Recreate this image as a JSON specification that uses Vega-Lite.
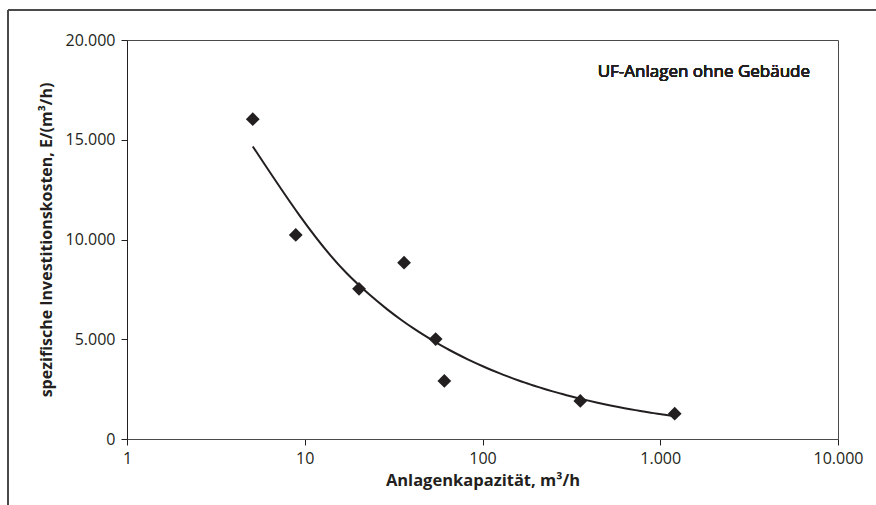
{
  "$schema": "https://vega.github.io/schema/vega-lite/v6.json",
  "width": 711,
  "height": 399,
  "autosize": {"type": "none"},
  "padding": {"left": 127, "top": 40, "right": 38, "bottom": 66},
  "background": "white",
  "config": {
    "font": "Open Sans",
    "view": {"stroke": "#4a4a4a", "strokeWidth": 1}
  },
  "data": {
    "values": [
      {"kap": 5.1, "kosten": 16030},
      {"kap": 8.9, "kosten": 10230},
      {"kap": 20.2, "kosten": 7530},
      {"kap": 36.2, "kosten": 8840},
      {"kap": 54.5, "kosten": 5010},
      {"kap": 61, "kosten": 2910},
      {"kap": 355, "kosten": 1910},
      {"kap": 1206, "kosten": 1270}
    ]
  },
  "layer": [
    {
      "mark": {"type": "rule", "color": "#4a4a4a", "strokeWidth": 1.2, "clip": false},
      "encoding": {
        "x": {"datum": 0.2141, "type": "quantitative", "scale": {"type": "log", "domain": [1, 10000]}},
        "y": {"datum": 21504, "type": "quantitative"},
        "y2": {"datum": -3600}
      }
    },
    {
      "mark": {"type": "rule", "color": "#4a4a4a", "strokeWidth": 1.2, "clip": false},
      "encoding": {
        "x": {"datum": 0.2141, "type": "quantitative"},
        "x2": {"datum": 20000},
        "y": {"datum": 21504, "type": "quantitative"}
      }
    },
    {
      "transform": [{"regression": "kosten", "on": "kap", "method": "pow"}],
      "mark": {"type": "line", "color": "#231f20", "strokeWidth": 2, "interpolate": "monotone"},
      "encoding": {
        "x": {"field": "kap", "type": "quantitative"},
        "y": {"field": "kosten", "type": "quantitative"}
      }
    },
    {
      "mark": {"type": "point", "shape": "diamond", "filled": true, "size": 190, "color": "#231f20", "opacity": 1},
      "encoding": {
        "x": {
          "field": "kap",
          "type": "quantitative",
          "scale": {"type": "log", "domain": [1, 10000]},
          "axis": {
            "title": "Anlagenkapazität, m³/h",
            "values": [1, 10, 100, 1000, 10000],
            "labelExpr": "replace(format(datum.value, ','), ',', '.')",
            "grid": false,
            "domainColor": "#4a4a4a",
            "tickColor": "#231f20",
            "tickSize": 6,
            "labelPadding": 5,
            "labelFontSize": 16,
            "labelColor": "#231f20",
            "labelFlush": false,
            "titleFontSize": 16.5,
            "titleFontWeight": "bold",
            "titleColor": "#231f20",
            "titlePadding": 6
          }
        },
        "y": {
          "field": "kosten",
          "type": "quantitative",
          "scale": {"domain": [0, 20000], "nice": false},
          "axis": {
            "title": "spezifische Investitionskosten, E/(m³/h)",
            "values": [0, 5000, 10000, 15000, 20000],
            "labelExpr": "replace(format(datum.value, ','), ',', '.')",
            "grid": false,
            "domainColor": "#231f20",
            "tickColor": "#231f20",
            "tickSize": 6,
            "labelPadding": 6,
            "labelFontSize": 16,
            "labelColor": "#231f20",
            "titleFontSize": 16,
            "titleFontWeight": "bold",
            "titleColor": "#231f20",
            "titlePadding": 11
          }
        }
      }
    },
    {
      "mark": {"type": "text", "text": "UF-Anlagen ohne Gebäude", "align": "right", "baseline": "middle", "fontSize": 17, "fontWeight": 400, "color": "#231f20"},
      "encoding": {
        "x": {"datum": 6960, "type": "quantitative"},
        "y": {"datum": 18396, "type": "quantitative"}
      }
    }
  ]
}
